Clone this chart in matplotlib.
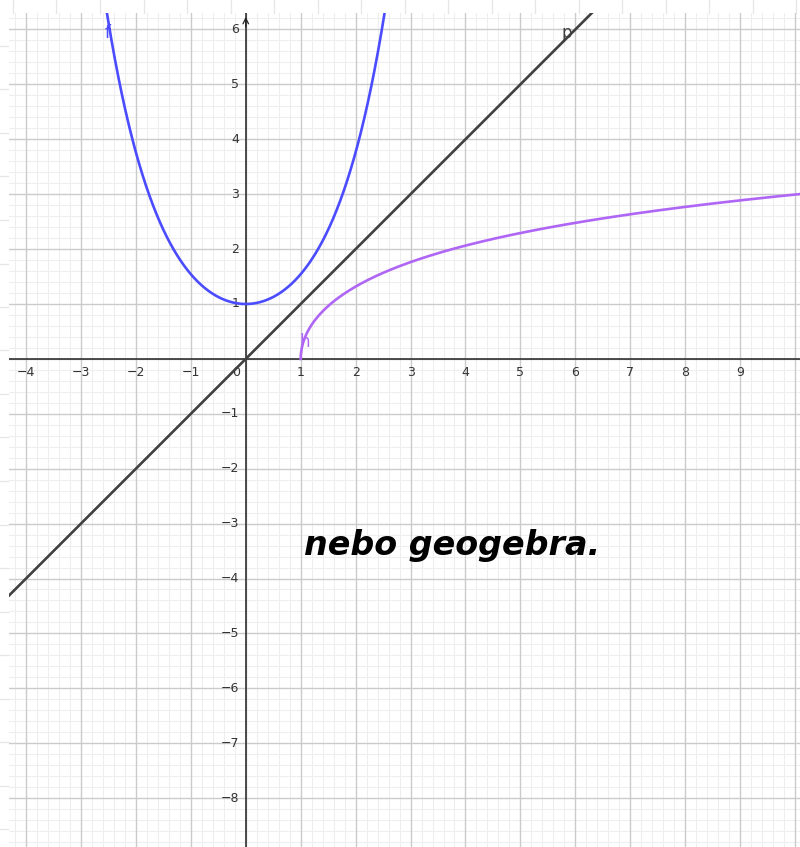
import numpy as np
import matplotlib.pyplot as plt
from matplotlib.lines import Line2D

# view window (units)
X_MIN, X_MAX = -4.31, 10.09
Y_MIN, Y_MAX = -8.89, 6.30

x_ticks = list(range(-4, 10))
y_ticks = list(range(-8, 7))

# graphed objects
curve_names = ["f", "h", "p"]
curve_colors = ["#4b4bff", "#b066f5", "#404040"]
label_pos = [(-2.51, 5.94), (1.08, 0.31), (5.85, 5.94)]


def f(x):
    return np.cosh(x)


def h(x):
    return np.arccosh(x)


def p(x):
    return x


fig = plt.figure(figsize=(8.0, 8.47), dpi=100)
W, H = 800, 847
ax = fig.add_axes([9 / W, 0, (W - 9) / W, (H - 13) / H])
ax.set_xlim(X_MIN, X_MAX)
ax.set_ylim(Y_MIN, Y_MAX)

# grid: minor every 0.2, major every 1
for v in np.arange(-5, 11, 0.2):
    if abs(v - round(v)) > 1e-6:
        ax.axvline(v, color="#eeeeee", lw=0.8, zorder=0)
for v in np.arange(-9, 7, 0.2):
    if abs(v - round(v)) > 1e-6:
        ax.axhline(v, color="#eeeeee", lw=0.8, zorder=0)
for v in range(-5, 11):
    ax.axvline(v, color="#cbcbcb", lw=1.0, zorder=1)
for v in range(-9, 7):
    ax.axhline(v, color="#cbcbcb", lw=1.0, zorder=1)

# axes
ax.axhline(0, color="#222222", lw=1.1, zorder=2)
ax.axvline(0, color="#222222", lw=1.1, zorder=2)
ax.annotate("", xy=(0, Y_MAX - 0.02), xytext=(0, Y_MAX - 0.3),
            arrowprops=dict(arrowstyle="->", lw=0.9, color="#222222",
                            mutation_scale=10), zorder=3)

for t in x_ticks:
    if t == 0:
        ax.text(-0.18, -0.25, "0", ha="center", va="center", fontsize=9, color="#333333")
    else:
        ax.text(t, -0.25, str(t).replace("-", "\u2212"), ha="center", va="center",
                fontsize=9, color="#333333")
for t in y_ticks:
    if t == 0:
        continue
    ax.text(-0.12, t, str(t).replace("-", "\u2212"), ha="right", va="center",
            fontsize=9, color="#333333")

# curves
xf = np.linspace(-2.7, 2.7, 600)
ax.plot(xf, f(xf), color=curve_colors[0], lw=1.9, zorder=4)
xh = np.concatenate([1 + np.linspace(0, 0.05, 200) ** 2, np.linspace(1.0026, X_MAX, 600)])
ax.plot(xh, h(xh), color=curve_colors[1], lw=1.9, zorder=4)
xp = np.linspace(X_MIN - 1, X_MAX + 1, 10)
ax.plot(xp, p(xp), color=curve_colors[2], lw=1.9, zorder=4)

for name, col, (lx, ly) in zip(curve_names, curve_colors, label_pos):
    ax.text(lx, ly, name, color=col, fontsize=12, ha="center", va="center", zorder=5)

ax.text(3.75, -3.39, "nebo geogebra.", fontsize=24, fontweight="bold",
        fontstyle="italic", color="black", ha="center", va="center", zorder=5)

ax.set_xticks([])
ax.set_yticks([])
for s in ax.spines.values():
    s.set_visible(False)

# faint background strip outside the graphics view
for px in np.arange(13, W, 43.5):
    fig.add_artist(Line2D([px / W] * 2, [1, 1 - 13 / H], transform=fig.transFigure,
                          color="#e6e6e6", lw=0.9))
for py in np.arange(46, H, 43.5):
    fig.add_artist(Line2D([0, 8 / W], [1 - py / H] * 2, transform=fig.transFigure,
                          color="#e6e6e6", lw=0.9))

fig.savefig("out.png", dpi=100)
